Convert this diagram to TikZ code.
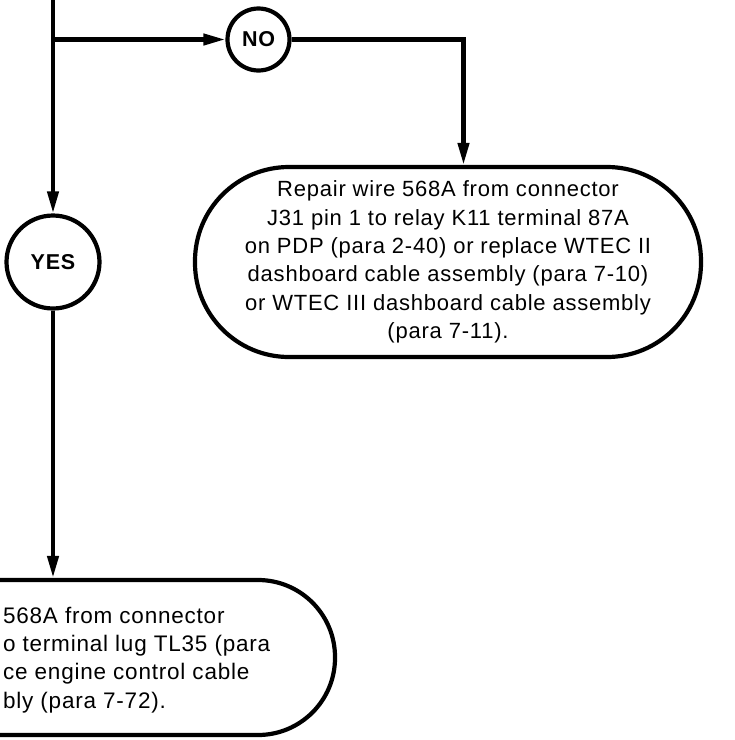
\documentclass[tikz,border=0pt]{standalone}
\usepackage{fontspec}
\setmainfont{Liberation Sans}[LetterSpace=3.5]
\usetikzlibrary{arrows.meta,positioning}

\begin{document}
\begin{tikzpicture}[
  x=1pt, y=-1pt,
  line width=4.2pt,
  flow/.style={-{Triangle[length=22pt,width=11pt]}},
  answer/.style={circle, draw, inner sep=0pt,
    font=\fontsize{21.5}{26}\selectfont\bfseries},
  action/.style={rectangle, draw, rounded corners=#1, align=center,
    inner sep=0pt, font=\fontsize{22}{28.3}\selectfont},
  bodytext/.style={align=left, inner sep=0pt,
    font=\fontsize{22.5}{28.3}\selectfont},
]

% Frame
\useasboundingbox (0,0) rectangle (735,740);
\clip (0,0) rectangle (735,740);

% Answers
\node[answer, minimum size=62pt] (no) at (258.5,39.5) {NO};
\node[answer, minimum size=93pt] (yes) at (53,262) {YES};

% Actions
\node[action=94pt, minimum width=506pt, minimum height=190pt] (repair) at (448,262)
  {Repair wire 568A from connector\\J31 pin 1 to relay K11 terminal 87A\\
   on PDP (para 2-40) or replace WTEC II\\dashboard cable assembly (para 7-10)\\
   or WTEC III dashboard cable assembly\\(para 7-11).};
\node[action=77pt, minimum width=560pt, minimum height=155pt] (engine) at (55,657.5) {};
\node[bodytext, anchor=west] (enginetext) at (1,660)
  {568A from connector\\o terminal lug TL35 (para\\ce engine control cable\\bly (para 7-72).};

% Connectors
\coordinate (top) at (53,-5);
\coordinate (branch) at (53,39.5);
\coordinate (bend) at (463.5,39.5);

\draw[flow] (top) -- (yes);
\draw[flow] (branch) -- (no);
\draw[flow] (no) -- (bend) -- (bend |- repair.north);
\draw[flow] (yes) -- (yes |- engine.north);

\end{tikzpicture}
\end{document}
